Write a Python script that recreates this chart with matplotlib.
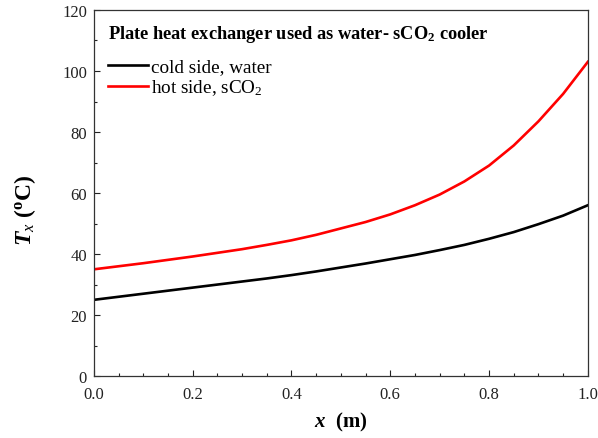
import matplotlib
matplotlib.use("Agg")
import matplotlib.pyplot as plt
from matplotlib.ticker import MultipleLocator, FormatStrFormatter

plt.rcParams['font.family'] = ['Liberation Serif', 'DejaVu Serif']
plt.rcParams['mathtext.fontset'] = 'custom'
plt.rcParams['mathtext.rm'] = 'Liberation Serif'
plt.rcParams['mathtext.it'] = 'Liberation Serif:italic'
plt.rcParams['mathtext.bf'] = 'Liberation Serif:bold'
plt.rcParams['mathtext.bfit'] = 'Liberation Serif:bold:italic'

x_vals = [0.0, 0.05, 0.1, 0.15, 0.2, 0.25, 0.3, 0.35, 0.4, 0.45, 0.5,
          0.55, 0.6, 0.65, 0.7, 0.75, 0.8, 0.85, 0.9, 0.95, 1.0]
cold_water = [25.0, 26.0, 27.0, 28.0, 29.0, 30.0, 31.0, 32.0, 33.1, 34.3, 35.6,
              36.9, 38.3, 39.7, 41.3, 43.0, 45.0, 47.2, 49.8, 52.6, 56.0]
hot_sco2 = [35.0, 36.0, 37.0, 38.1, 39.2, 40.4, 41.6, 43.0, 44.5, 46.3, 48.4,
            50.5, 53.0, 56.0, 59.5, 63.8, 69.0, 75.6, 83.5, 92.5, 103.0]

fig = plt.figure(figsize=(5.98, 4.39), dpi=100)
ax = fig.add_axes([0.157, 0.141, 0.826, 0.834])

ax.plot(x_vals, cold_water, color='black', lw=1.9, solid_joinstyle='round',
        label='cold side, water')
ax.plot(x_vals, hot_sco2, color='#ff0000', lw=1.9, solid_joinstyle='round',
        label=r'hot side, sCO$_\mathregular{2}$')

ax.set_xlim(0, 1.0)
ax.set_ylim(0, 120)
ax.xaxis.set_major_locator(MultipleLocator(0.2))
ax.xaxis.set_minor_locator(MultipleLocator(0.05))
ax.yaxis.set_major_locator(MultipleLocator(20))
ax.yaxis.set_minor_locator(MultipleLocator(10))
ax.xaxis.set_major_formatter(FormatStrFormatter('%.1f'))
ax.tick_params(which='both', direction='in', top=False, right=False, labelsize=12,
               colors='#222222')
ax.tick_params(which='major', length=4.5, width=0.8)
ax.tick_params(which='minor', length=2.5, width=0.8)
ax.tick_params(axis='x', pad=7)
ax.tick_params(axis='y', pad=5)
for s in ax.spines.values():
    s.set_color('#333333')
    s.set_linewidth(0.9)

ax.set_xlabel(r'$\mathbfit{x}$  $\mathbf{(m)}$', fontsize=15, labelpad=6)
ax.set_ylabel(r'$\mathbfit{T}_{\mathit{x}}$ $\mathbf{(^{o}C)}$', fontsize=17)
ax.yaxis.set_label_coords(-0.113, 0.454)

ax.text(0.028, 0.935, r'Plate heat exchanger used as water- sCO$_\mathbf{2}$ cooler',
        transform=ax.transAxes, fontsize=13.2, fontweight='bold',
        ha='left', va='center')

leg = ax.legend(loc='upper left', frameon=False, fontsize=13.8,
                handlelength=2.08, handletextpad=0.2, labelspacing=0.12,
                borderpad=0.0, borderaxespad=0.0,
                bbox_to_anchor=(0.028, 0.869))

fig.savefig('out.png', dpi=100)
